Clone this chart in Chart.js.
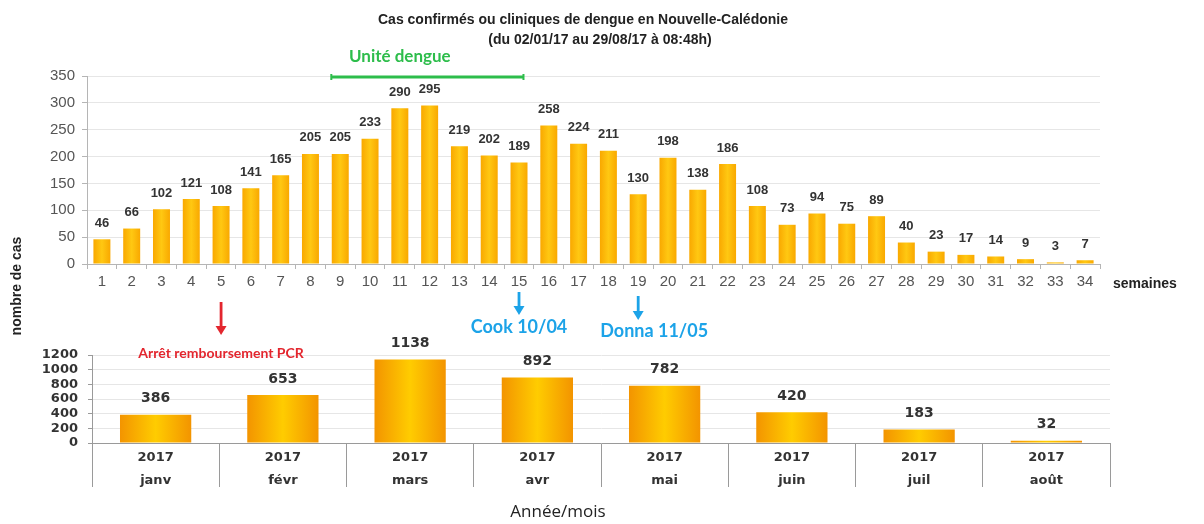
<!DOCTYPE html>
<html><head><meta charset="utf-8">
<script src="https://cdn.jsdelivr.net/npm/chart.js@4/dist/chart.umd.min.js"></script>
<style>
html,body{margin:0;padding:0;background:#fff;}
#wrap{position:relative;width:1204px;height:524px;overflow:hidden;}
canvas{position:absolute;left:0;top:0;}
</style></head><body>
<div id="wrap"><canvas id="c2" width="1204" height="524"></canvas><canvas id="c1" width="1204" height="524"></canvas></div>
<script>
// ---- data ----
const weeks = ['1','2','3','4','5','6','7','8','9','10','11','12','13','14','15','16','17','18','19','20','21','22','23','24','25','26','27','28','29','30','31','32','33','34'];
const weeklyCases = [46,66,102,121,108,141,165,205,205,233,290,295,219,202,189,258,224,211,130,198,138,186,108,73,94,75,89,40,23,17,14,9,3,7];
const monthYears = ['2017','2017','2017','2017','2017','2017','2017','2017'];
const monthNames = ['janv','févr','mars','avr','mai','juin','juil','août'];
const monthlyCases = [386,653,1138,892,782,420,183,32];
const weeklyAxis = {min:0, max:350, step:50};
const monthlyAxis = {min:0, max:1200, step:200};
// annotation anchors (week indices)
const unitStartWeek = 9, unitEndWeek = 15, unitLabelWeek = 11;
const pcrWeek = 5, cookWeek = 15, donnaWeek = 19;

const SANS = '"Liberation Sans", Arial, sans-serif';
const BOLDW = '"DejaVu Sans", Verdana, sans-serif';
const CAL = 'Lato, "Open Sans", sans-serif';

const gradPlugin = {id:'grad', beforeDatasetsDraw(chart, args, o){
  const ctx = chart.ctx;
  chart.getDatasetMeta(0).data.forEach(el=>{
    const x = el.x, w = el.width;
    const g = ctx.createLinearGradient(x - w/2, 0, x + w/2, 0);
    g.addColorStop(0, o.edge); g.addColorStop(0.5, o.mid); g.addColorStop(1, o.edge);
    el.options = Object.assign({}, el.options, {backgroundColor: g});
  });
}};
const valPlugin = {id:'vals', afterDatasetsDraw(chart, args, o){
  const ctx = chart.ctx; ctx.save();
  ctx.font = o.font; ctx.fillStyle = o.color; ctx.textAlign = 'center'; ctx.textBaseline = 'middle';
  const d = chart.data.datasets[0].data;
  chart.getDatasetMeta(0).data.forEach((el,i)=>{ ctx.fillText(String(d[i]), el.x, el.y - o.offset); });
  ctx.restore();
}};
function arrow(ctx, x, y1, y2, color){
  ctx.save(); ctx.strokeStyle = color; ctx.fillStyle = color; ctx.lineWidth = 2.8;
  ctx.beginPath(); ctx.moveTo(x, y1); ctx.lineTo(x, y2 - 7); ctx.stroke();
  ctx.beginPath(); ctx.moveTo(x - 5.5, y2 - 9); ctx.lineTo(x + 5.5, y2 - 9); ctx.lineTo(x, y2); ctx.closePath(); ctx.fill();
  ctx.restore();
}
const topAnno = {id:'topAnno', afterDraw(chart){
  const ctx = chart.ctx, xs = chart.scales.x, ys = chart.scales.y, ca = chart.chartArea;
  const px = w => xs.getPixelForValue(w - 1);
  const step = px(2) - px(1);
  ctx.save();
  // title
  ctx.fillStyle = '#222'; ctx.textAlign = 'center'; ctx.textBaseline = 'middle';
  ctx.font = 'bold 14px ' + SANS;
  ctx.fillText('Cas confirmés ou cliniques de dengue en Nouvelle-Calédonie', 583, 20);
  ctx.fillText('(du 02/01/17 au 29/08/17 à 08:48h)', 600, 40);
  // semaines
  ctx.textAlign = 'left'; ctx.font = 'bold 14px ' + SANS;
  ctx.fillText('semaines', ca.right + 13, ca.bottom + 20);
  // y title rotated
  ctx.save(); ctx.translate(17, 286); ctx.rotate(-Math.PI/2);
  ctx.textAlign = 'center'; ctx.font = 'bold 14px ' + SANS; ctx.fillStyle = '#222';
  ctx.fillText('nombre de cas', 0, 0); ctx.restore();
  // Unité dengue
  const gy = ys.getPixelForValue(weeklyAxis.max) + 1;
  const gx1 = px(unitStartWeek) - 0.3*step, gx2 = px(unitEndWeek) + 0.15*step;
  ctx.strokeStyle = '#2dbd4b'; ctx.lineWidth = 3;
  ctx.beginPath(); ctx.moveTo(gx1, gy); ctx.lineTo(gx2, gy); ctx.stroke();
  ctx.lineWidth = 2;
  ctx.beginPath(); ctx.moveTo(gx1, gy-3); ctx.lineTo(gx1, gy+3); ctx.moveTo(gx2, gy-3); ctx.lineTo(gx2, gy+3); ctx.stroke();
  ctx.fillStyle = '#2dbd4b'; ctx.textAlign = 'center'; ctx.font = 'bold 17px ' + CAL;
  ctx.fillText('Unité dengue', px(unitLabelWeek), gy - 20);
  // arrows
  const b = ca.bottom;
  arrow(ctx, px(pcrWeek), b + 38, b + 71, '#e3262e');
  ctx.fillStyle = '#e3262e'; ctx.font = 'bold 14px ' + CAL;
  ctx.fillText('Arrêt remboursement PCR', px(pcrWeek), b + 89);
  arrow(ctx, px(cookWeek), b + 28, b + 51, '#1ca3e8');
  ctx.fillStyle = '#1ca3e8'; ctx.font = 'bold 18px ' + CAL;
  ctx.fillText('Cook 10/04', px(cookWeek), b + 63);
  arrow(ctx, px(donnaWeek), b + 32, b + 56, '#1ca3e8');
  ctx.fillText('Donna 11/05', px(donnaWeek) + 16, b + 67);
  ctx.restore();
}};
const botAnno = {id:'botAnno', afterDraw(chart){
  const ctx = chart.ctx; ctx.save();
  ctx.fillStyle = '#222'; ctx.textAlign = 'center'; ctx.textBaseline = 'middle';
  ctx.font = '17px "Open Sans", sans-serif';
  ctx.fillText('Année/mois', 558, 512);
  ctx.restore();
}};

new Chart(document.getElementById('c1'), {
  type: 'bar',
  data: {labels: weeks, datasets: [{data: weeklyCases, backgroundColor: '#ffb800', barPercentage: 0.57, categoryPercentage: 1}]},
  options: {
    responsive: false, animation: false, devicePixelRatio: 1,
    layout: {padding: {left: 0, top: 76, right: 104, bottom: 230}},
    plugins: {legend: {display: false}, tooltip: {enabled: false},
      grad: {edge: '#f9a800', mid: '#ffc812'},
      vals: {font: 'bold 13px ' + SANS, color: '#333', offset: 16}},
    scales: {
      x: {grid: {offset: true, drawOnChartArea: false, tickLength: 5, color: '#b5b5b5'},
          border: {color: '#b5b5b5'},
          ticks: {font: {family: SANS, size: 15}, color: '#555', padding: 4, maxRotation: 0, autoSkip: false},
          afterFit(s){ s.height = 30; }},
      y: {min: weeklyAxis.min, max: weeklyAxis.max,
          ticks: {stepSize: weeklyAxis.step, font: {family: SANS, size: 15}, color: '#555', padding: 7, autoSkip: false, callback: v => String(v)},
          grid: {color: '#e6e6e6', tickLength: 5, tickColor: '#b5b5b5'},
          border: {color: '#b5b5b5'},
          afterFit(s){ s.width = 87; }}
    }
  },
  plugins: [gradPlugin, valPlugin, topAnno]
});

new Chart(document.getElementById('c2'), {
  type: 'bar',
  data: {labels: monthNames.map((m,i)=>[monthYears[i], m]), datasets: [{data: monthlyCases, backgroundColor: '#ffb000', barPercentage: 0.56, categoryPercentage: 1}]},
  options: {
    responsive: false, animation: false, devicePixelRatio: 1,
    layout: {padding: {left: 0, top: 355, right: 94, bottom: 0}},
    plugins: {legend: {display: false}, tooltip: {enabled: false},
      grad: {edge: '#f39400', mid: '#ffcc00'},
      vals: {font: 'bold 14px ' + BOLDW, color: '#333', offset: 16}},
    scales: {
      x: {grid: {offset: true, drawOnChartArea: false, tickLength: 44, color: '#9a9a9a'},
          border: {color: '#9a9a9a'},
          ticks: {font: {family: BOLDW, size: 13, weight: 'bold', lineHeight: 1.7}, color: '#333', padding: -40, maxRotation: 0, autoSkip: false},
          afterFit(s){ s.height = 81; }},
      y: {min: monthlyAxis.min, max: monthlyAxis.max,
          ticks: {stepSize: monthlyAxis.step, font: {family: BOLDW, size: 13, weight: 'bold', lineHeight: 1}, color: '#333', padding: 10, autoSkip: false, callback: v => String(v)},
          grid: {color: '#e6e6e6', tickLength: 4, tickColor: '#9a9a9a'},
          border: {color: '#9a9a9a'},
          afterFit(s){ s.width = 92; }}
    }
  },
  plugins: [gradPlugin, valPlugin, botAnno]
});
</script>
</body></html>
